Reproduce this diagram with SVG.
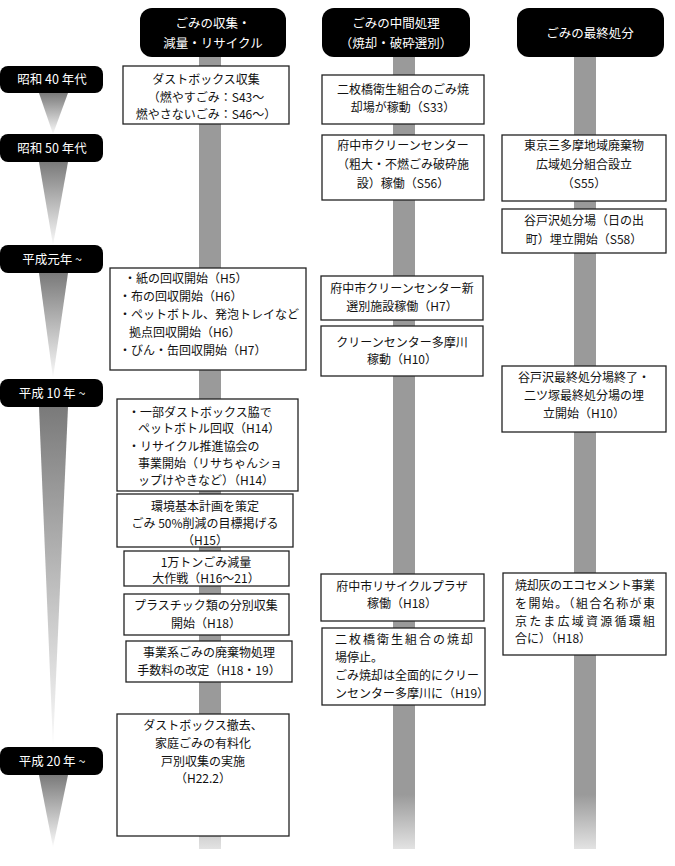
<svg xmlns="http://www.w3.org/2000/svg" width="675" height="866" viewBox="0 0 675 866">
<style>
text{font-family:"Noto Sans CJK JP","Noto Sans",sans-serif;font-size:12px;fill:#111}
.hd{fill:#000}
.ht{fill:#fff;font-size:12.5px;text-anchor:middle}
.et{fill:#fff;font-size:12.5px;text-anchor:middle}
.bx{fill:#fff;stroke:#222;stroke-width:1.3}
.c{text-anchor:middle}
</style>
<defs>
<linearGradient id="bar" gradientUnits="userSpaceOnUse" x1="0" y1="57" x2="0" y2="850">
<stop offset="0" stop-color="#9a9a9a"/>
<stop offset="0.93" stop-color="#9a9a9a"/>
<stop offset="1" stop-color="#e4e4e4"/>
</linearGradient>
<linearGradient id="tri" x1="0" y1="0" x2="0" y2="1">
<stop offset="0" stop-color="#7a7a7a"/>
<stop offset="1" stop-color="#fafafa"/>
</linearGradient>
</defs>
<rect width="675" height="866" fill="#fff"/>
<g id="connectors">
<rect x="199" y="57" width="22" height="792" fill="url(#bar)"/>
<rect x="393" y="57" width="22" height="792" fill="url(#bar)"/>
<rect x="574" y="57" width="22" height="792" fill="url(#bar)"/>
<polygon points="39,93 68,93 53,134" fill="url(#tri)"/>
<polygon points="39,162 68,162 53,245" fill="url(#tri)"/>
<polygon points="39,273 68,273 53,378" fill="url(#tri)"/>
<polygon points="39,407 68,407 53,746" fill="url(#tri)"/>
<polygon points="39,775 68,775 53,847" fill="url(#tri)"/>
</g>
<g id="header1"><rect class="hd" x="140" y="8" width="146" height="49" rx="12"/><text class="ht" x="213" y="28">ごみの収集・</text><text class="ht" x="213" y="48">減量・リサイクル</text></g>
<g id="header2"><rect class="hd" x="322" y="8" width="148" height="49" rx="12"/><text class="ht" x="396" y="28">ごみの中間処理</text><text class="ht" x="396" y="48">（焼却・破砕選別）</text></g>
<g id="header3"><rect class="hd" x="517" y="8" width="147" height="49" rx="12"/><text class="ht" x="590" y="38">ごみの最終処分</text></g>
<g id="era1"><rect class="hd" x="0" y="66" width="103" height="27" rx="8"/><text class="et" x="52" y="84">昭和 40 年代</text></g>
<g id="era2"><rect class="hd" x="0" y="134" width="103" height="28" rx="8"/><text class="et" x="52" y="152.5">昭和 50 年代</text></g>
<g id="era3"><rect class="hd" x="0" y="245" width="103" height="28" rx="8"/><text class="et" x="52" y="263.5">平成元年 ~</text></g>
<g id="era4"><rect class="hd" x="0" y="379" width="103" height="28" rx="8"/><text class="et" x="52" y="397.5">平成 10 年 ~</text></g>
<g id="era5"><rect class="hd" x="0" y="747" width="103" height="28" rx="8"/><text class="et" x="52" y="765.5">平成 20 年 ~</text></g>
<g id="a1"><rect class="bx" x="123" y="66" width="166" height="58"/><text class="c" x="206" y="83.5">ダストボックス収集</text><text class="c" x="206" y="101.5">（燃やすごみ：S43～</text><text class="c" x="206" y="118.5">燃やさないごみ：S46～）</text></g>
<g id="a2"><rect class="bx" x="110" y="268" width="196" height="102"/><text x="124" y="282.5">・紙の回収開始（H5）</text><text x="119" y="301">・布の回収開始（H6）</text><text x="119" y="319">・ペットボトル、発泡トレイなど</text><text x="129" y="337">拠点回収開始（H6）</text><text x="119" y="355">・びん・缶回収開始（H7）</text></g>
<g id="a3"><rect class="bx" x="117" y="399" width="181" height="92"/><text x="128" y="416.5">・一部ダストボックス脇で</text><text x="138" y="433">ペットボトル回収（H14）</text><text x="128" y="450.5">・リサイクル推進協会の</text><text x="138" y="467.5">事業開始（リサちゃんショ</text><text x="138" y="484.5">ップけやきなど）（H14）</text></g>
<g id="a4"><rect class="bx" x="117" y="494" width="176" height="53"/><text class="c" x="205" y="510.5">環境基本計画を策定</text><text class="c" x="205" y="527.5">ごみ 50%削減の目標掲げる</text><text class="c" x="205" y="545">（H15）</text></g>
<g id="a5"><rect class="bx" x="124" y="551" width="165" height="35"/><text class="c" x="206" y="566.5">1万トンごみ減量</text><text class="c" x="206" y="583">大作戦（H16～21）</text></g>
<g id="a6"><rect class="bx" x="124" y="594" width="165" height="41"/><text class="c" x="206" y="609.5">プラスチック類の分別収集</text><text class="c" x="206" y="627.5">開始（H18）</text></g>
<g id="a7"><rect class="bx" x="126" y="641" width="166" height="41"/><text class="c" x="209" y="656.5">事業系ごみの廃棄物処理</text><text class="c" x="209" y="675">手数料の改定（H18・19）</text></g>
<g id="a8"><rect class="bx" x="117" y="714" width="172" height="122"/><text class="c" x="203" y="729.5">ダストボックス撤去、</text><text class="c" x="203" y="747.5">家庭ごみの有料化</text><text class="c" x="203" y="766">戸別収集の実施</text><text class="c" x="203" y="782.5">（H22.2）</text></g>
<g id="b1"><rect class="bx" x="322" y="75" width="162" height="49"/><text class="c" x="403" y="93.5">二枚橋衛生組合のごみ焼</text><text class="c" x="403" y="111.5">却場が稼動（S33）</text></g>
<g id="b2"><rect class="bx" x="322" y="135" width="162" height="65"/><text class="c" x="403" y="149.5">府中市クリーンセンター</text><text class="c" x="403" y="168.5">（粗大・不燃ごみ破砕施</text><text class="c" x="403" y="187.5">設）稼働（S56）</text></g>
<g id="b3"><rect class="bx" x="321" y="276" width="162" height="44"/><text class="c" x="402" y="292.5">府中市クリーンセンター新</text><text class="c" x="402" y="310.5">選別施設稼働（H7）</text></g>
<g id="b4"><rect class="bx" x="321" y="326" width="162" height="50"/><text class="c" x="402" y="347">クリーンセンター多摩川</text><text class="c" x="402" y="364">稼動（H10）</text></g>
<g id="b5"><rect class="bx" x="321" y="574" width="163" height="47"/><text class="c" x="402" y="590.5">府中市リサイクルプラザ</text><text class="c" x="402" y="607.5">稼働（H18）</text></g>
<g id="b6"><rect class="bx" x="322" y="628" width="163" height="77"/><text x="335" y="643.5" textLength="138" lengthAdjust="spacing">二枚橋衛生組合の焼却</text><text x="335" y="661.5">場停止。</text><text x="335" y="679.5">ごみ焼却は全面的にクリー</text><text x="335" y="697.5">ンセンター多摩川に（H19）</text></g>
<g id="c1"><rect class="bx" x="502" y="135" width="164" height="66"/><text class="c" x="584" y="149.5">東京三多摩地域廃棄物</text><text class="c" x="584" y="168.5">広域処分組合設立</text><text class="c" x="584" y="187.5">（S55）</text></g>
<g id="c2"><rect class="bx" x="502" y="209" width="164" height="44"/><text class="c" x="584" y="225">谷戸沢処分場（日の出</text><text class="c" x="584" y="243.5">町）埋立開始（S58）</text></g>
<g id="c3"><rect class="bx" x="502" y="366" width="164" height="66"/><text class="c" x="584" y="381.5">谷戸沢最終処分場終了・</text><text class="c" x="584" y="399.5">二ツ塚最終処分場の埋</text><text class="c" x="584" y="417.5">立開始（H10）</text></g>
<g id="c4"><rect class="bx" x="503" y="573" width="163" height="82"/><text x="515" y="589.5" textLength="140" lengthAdjust="spacing">焼却灰のエコセメント事業</text><text x="515" y="607.5" textLength="140" lengthAdjust="spacing">を開始。（組合名称が東</text><text x="515" y="625.5" textLength="140" lengthAdjust="spacing">京たま広域資源循環組</text><text x="515" y="642.5">合に）（H18）</text></g>
</svg>
